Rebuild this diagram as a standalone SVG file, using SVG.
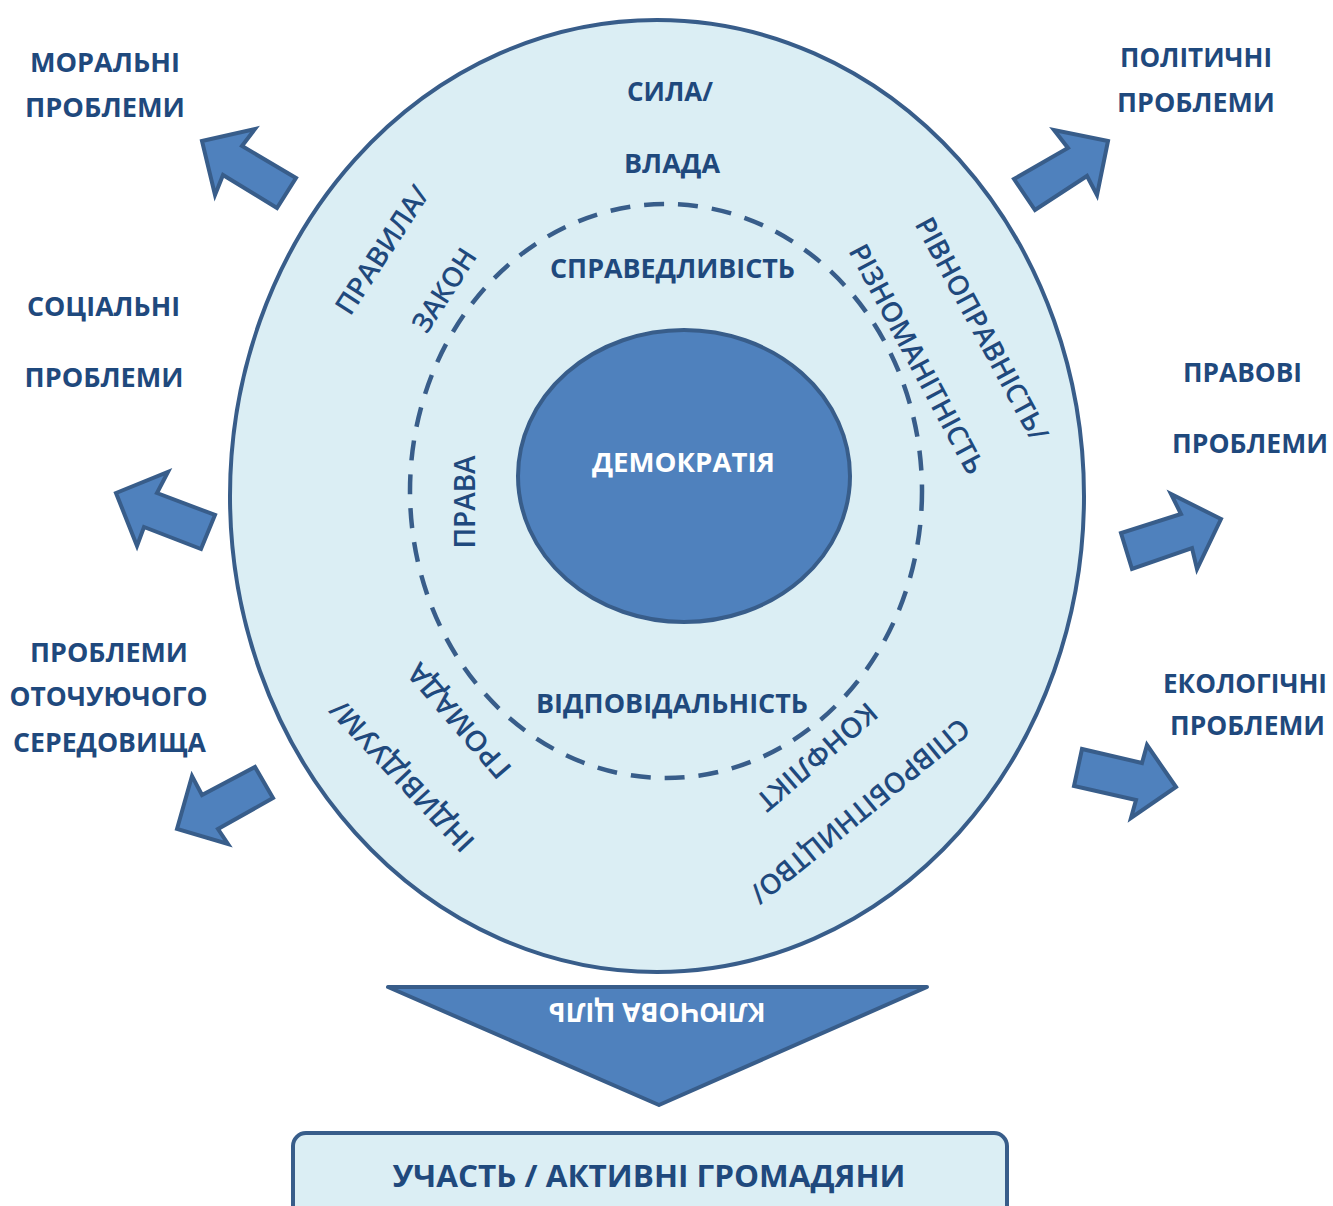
<svg xmlns="http://www.w3.org/2000/svg" width="1333" height="1206" viewBox="0 0 1333 1206">
<defs>
<style>
.t{font-family:"Open Sans","Liberation Sans",sans-serif;font-weight:bold;font-size:27px;fill:#1f497d;text-anchor:middle}
.r{font-family:"Open Sans","Liberation Sans",sans-serif;font-weight:600;font-size:28px;fill:#1f497d;text-anchor:middle}
.w{fill:#ffffff}
.arrow{fill:#4f81bd;stroke:#385d8a;stroke-width:4;stroke-linejoin:miter}
</style>
</defs>
<rect width="1333" height="1206" fill="#ffffff"/>

<g id="outer">
<ellipse cx="657" cy="496" rx="427" ry="476" fill="#dbeef4" stroke="#385d8a" stroke-width="4"/>
<text class="t" x="670" y="101" textLength="86" lengthAdjust="spacingAndGlyphs">СИЛА/</text>
<text class="t" x="672" y="173" textLength="96" lengthAdjust="spacingAndGlyphs">ВЛАДА</text>
<text class="r" transform="translate(382,250) rotate(-57)" y="10" textLength="147" lengthAdjust="spacingAndGlyphs">ПРАВИЛА/</text>
<text class="r" transform="translate(982,329) rotate(61.8)" y="10" textLength="249" lengthAdjust="spacingAndGlyphs">РІВНОПРАВНІСТЬ/</text>
<text class="r" transform="translate(402,776) rotate(-133)" y="10" textLength="196" lengthAdjust="spacingAndGlyphs">ІНДИВІДУУМ/</text>
<text class="r" transform="translate(860,811) rotate(140.8)" y="10" textLength="274" lengthAdjust="spacingAndGlyphs">СПІВРОБІТНИЦТВО/</text>
</g>

<g id="middle">
<ellipse cx="666" cy="491" rx="256" ry="287" fill="none" stroke="#385d8a" stroke-width="4.5" stroke-dasharray="20 14"/>
<text class="t" x="672.5" y="278" textLength="245" lengthAdjust="spacingAndGlyphs">СПРАВЕДЛИВІСТЬ</text>
<text class="t" x="672" y="713" textLength="272" lengthAdjust="spacingAndGlyphs">ВІДПОВІДАЛЬНІСТЬ</text>
<text class="r" transform="translate(444,290) rotate(-57)" y="10" textLength="94" lengthAdjust="spacingAndGlyphs">ЗАКОН</text>
<text class="r" transform="translate(465,502) rotate(-90)" y="10" textLength="93" lengthAdjust="spacingAndGlyphs">ПРАВА</text>
<text class="r" transform="translate(917,359) rotate(62)" y="10" textLength="256" lengthAdjust="spacingAndGlyphs">РІЗНОМАНІТНІСТЬ</text>
<text class="r" transform="translate(459,721) rotate(-130.7)" y="10" textLength="142" lengthAdjust="spacingAndGlyphs">ГРОМАДА</text>
<text class="r" transform="translate(817,757) rotate(139.3)" y="10" textLength="149" lengthAdjust="spacingAndGlyphs">КОНФЛІКТ</text>
</g>

<g id="core">
<ellipse cx="684" cy="476" rx="166" ry="146" fill="#4f81bd" stroke="#385d8a" stroke-width="4"/>
<text class="t w" x="683.5" y="472" textLength="183" lengthAdjust="spacingAndGlyphs">ДЕМОКРАТІЯ</text>
</g>

<g id="moral">
<text class="t" x="105" y="71.5" textLength="150" lengthAdjust="spacingAndGlyphs">МОРАЛЬНІ</text>
<text class="t" x="105" y="117" textLength="160" lengthAdjust="spacingAndGlyphs">ПРОБЛЕМИ</text>
</g>
<g id="social">
<text class="t" x="103.5" y="316" textLength="153" lengthAdjust="spacingAndGlyphs">СОЦІАЛЬНІ</text>
<text class="t" x="104" y="387" textLength="159" lengthAdjust="spacingAndGlyphs">ПРОБЛЕМИ</text>
</g>
<g id="environment">
<text class="t" x="109" y="662" textLength="158" lengthAdjust="spacingAndGlyphs">ПРОБЛЕМИ</text>
<text class="t" x="108.5" y="706" textLength="198" lengthAdjust="spacingAndGlyphs">ОТОЧУЮЧОГО</text>
<text class="t" x="109.5" y="752" textLength="193" lengthAdjust="spacingAndGlyphs">СЕРЕДОВИЩА</text>
</g>
<g id="political">
<text class="t" x="1196" y="66.5" textLength="152" lengthAdjust="spacingAndGlyphs">ПОЛІТИЧНІ</text>
<text class="t" x="1196" y="111.5" textLength="158" lengthAdjust="spacingAndGlyphs">ПРОБЛЕМИ</text>
</g>
<g id="legal">
<text class="t" x="1242.5" y="382" textLength="119" lengthAdjust="spacingAndGlyphs">ПРАВОВІ</text>
<text class="t" x="1250" y="453" textLength="156" lengthAdjust="spacingAndGlyphs">ПРОБЛЕМИ</text>
</g>
<g id="ecological">
<text class="t" x="1245" y="693" textLength="164" lengthAdjust="spacingAndGlyphs">ЕКОЛОГІЧНІ</text>
<text class="t" x="1247.5" y="735" textLength="155" lengthAdjust="spacingAndGlyphs">ПРОБЛЕМИ</text>
</g>

<g id="connectors">
<polygon class="arrow" points="202,141 255,129 242,146 296,178 277,208 223,175 215,195"/>
<polygon class="arrow" points="116,493 168,472 157,493 215,515 201,549 144,527 137,546"/>
<polygon class="arrow" points="177,829 192,776 202,795 255,767 273,798 218,829 228,844"/>
<polygon class="arrow" points="1108,141 1054,130 1068,148 1014,179 1035,210 1087,176 1097,195"/>
<polygon class="arrow" points="1221,519 1171,494 1181,514 1121,533 1132,569 1192,548 1197,569"/>
<polygon class="arrow" points="1176,787 1147,745 1142,763 1082,749 1074,786 1136,800 1131,818"/>
</g>

<g id="key-goal">
<polygon points="388,987 927,987 659,1105" fill="#4f81bd" stroke="#385d8a" stroke-width="4" stroke-linejoin="round"/>
<text class="t w" transform="translate(657,1013) rotate(180)" y="10" textLength="217" lengthAdjust="spacingAndGlyphs">КЛЮЧОВА ЦІЛЬ</text>
</g>

<g id="participation">
<rect x="293" y="1133" width="714" height="95" rx="13" ry="13" fill="#dbeef4" stroke="#385d8a" stroke-width="4"/>
<text class="t" x="649" y="1187" style="font-size:31px" textLength="513" lengthAdjust="spacingAndGlyphs">УЧАСТЬ / АКТИВНІ ГРОМАДЯНИ</text>
</g>
</svg>
